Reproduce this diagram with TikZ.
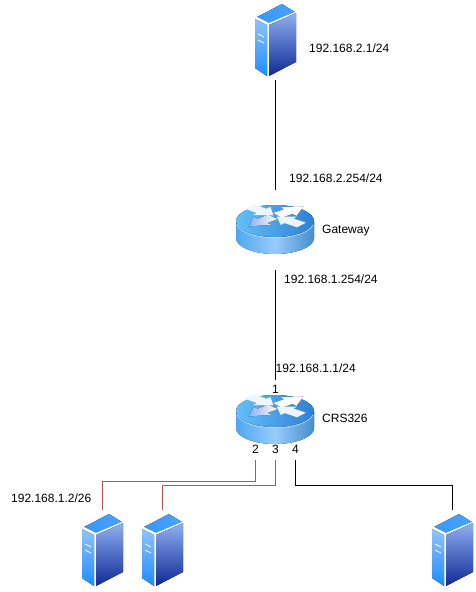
\documentclass[tikz,border=0pt]{standalone}
\usepackage{fontspec}
\setmainfont{Liberation Sans}
\definecolor{linkred}{HTML}{B85450}
\definecolor{srvlight}{HTML}{8FC4FF}
\definecolor{srvmid}{HTML}{1E8CFF}
\definecolor{srvsideA}{HTML}{8FAFF0}
\definecolor{srvsideB}{HTML}{0F2A96}
\definecolor{rtA}{HTML}{62C0FA}
\definecolor{rtB}{HTML}{2F7FD6}
\definecolor{rtC}{HTML}{4FA6F2}
\definecolor{rtD}{HTML}{98CCFC}
\tikzset{
	devbox/.style={inner sep=0pt, outer sep=0pt, minimum width=41, minimum height=80},
	rtbox/.style={inner sep=0pt, outer sep=0pt, minimum width=78, minimum height=80},
	lbl/.style={inner sep=0pt, anchor=west, font=\fontsize{12}{14}\selectfont},
	portlbl/.style={inner sep=0pt, outer sep=0pt, minimum width=8, minimum height=22, font=\fontsize{12}{14}\selectfont},
	server/.pic={
		\fill[left color=srvmid!90!white, right color=srvmid!80!white] (2,14) -- (27,1) -- (40,9) -- (14,20) -- cycle;
		\fill[white] (0,15.5) -- (2,14) -- (14,20) -- (40,9) -- (41,10) -- (41,59) -- (14,73) -- (12,73) -- (0,65) -- cycle;
		\fill[top color=srvlight, bottom color=srvmid] (0,16) -- (12,22) -- (12,73) -- (0,65) -- cycle;
		\fill[top color=srvsideA, bottom color=srvsideB] (14,22) -- (41,10) -- (41,59) -- (14,73) -- cycle;
		\draw[white, line width=0.7] (3,31) -- (9,34) (3,37) -- (9,40);
	},
	router/.pic={
		\fill[left color=rtC, right color=rtC!85!black, middle color=rtD] (0,16) -- (0,33) arc (180:0:39 and 16) -- (78,16) -- cycle;
		\fill[left color=rtA, right color=rtB] (39,16) ellipse (39 and 16);
		\draw[rtD!60!white, line width=0.6] (1,20) arc (170:10:38.5 and 15.5);
		% arrows going out, then coming in
		\foreach \ang/\tone in {38/white, 223/srvsideA}
			\fill[left color=\tone, right color=white, shift={(39,11)}, yscale=0.42, rotate=\ang]
				(3,-7) -- (17,-7) -- (17,-13) -- (36,0) -- (17,13) -- (17,7) -- (3,7) -- cycle;
		\foreach \ang in {138,-39}
			\fill[white!92!rtB, shift={(39,11)}, yscale=0.42, rotate=\ang]
				(34,-7) -- (18,-7) -- (18,-13) -- (2,0) -- (18,13) -- (18,7) -- (34,7) -- cycle;
	}
}
\begin{document}
\begin{tikzpicture}[x=1pt, y=-1pt]
	\useasboundingbox (0,0) rectangle (476,592);
	% devices
	\pic at (255,3) {server};
	\pic at (236,205) {router};
	\pic at (236,395) {router};
	\pic at (82,513) {server};
	\pic at (142,513) {server};
	\pic at (432,513) {server};
	% invisible boxes for the links
	\node[devbox] (srvtop) at (275.5,40) {};
	\node[rtbox] (gateway) at (275.5,230) {};
	\node[rtbox] (crs) at (275.5,420) {};
	\node[devbox] (srvA) at (102.5,550) {};
	\node[devbox] (srvB) at (162.5,550) {};
	\node[devbox] (srvC) at (452.5,550) {};
	% ports
	\node[portlbl] (portone) at (275.5,389) {1};
	\node[portlbl] (porttwo) at (255.5,449) {2};
	\node[portlbl] (portthree) at (275.5,449) {3};
	\node[portlbl] (portfour) at (295.5,449) {4};
	\coordinate (bendA) at (102.5,481);
	\coordinate (bendB) at (162.5,485);
	\coordinate (bendC) at (452.5,485);
	% links
	\draw (srvtop.south) -- (gateway.north);
	\draw (gateway.south) -- (crs.north);
	\draw[linkred] (porttwo.south) |- (bendA) -- (srvA.north);
	\draw[linkred] (portthree.south) |- (bendB) -- (srvB.north);
	\draw (portfour.south) |- (bendC) -- (srvC.north);
	% labels
	\node[lbl] (ipsrv) at (309,48) {192.168.2.1/24};
	\node[lbl] (ipgwtop) at (289,178) {192.168.2.254/24};
	\node[lbl] (gwname) at (322,230.5) {Gateway};
	\node[lbl] (ipgwlow) at (284,279) {192.168.1.254/24};
	\node[lbl] (ipcrs) at (275.5,368) {192.168.1.1/24};
	\node[lbl] (crsname) at (322,418) {CRS326};
	\node[lbl] (ipsrvA) at (11,498) {192.168.1.2/26};
\end{tikzpicture}
\end{document}
